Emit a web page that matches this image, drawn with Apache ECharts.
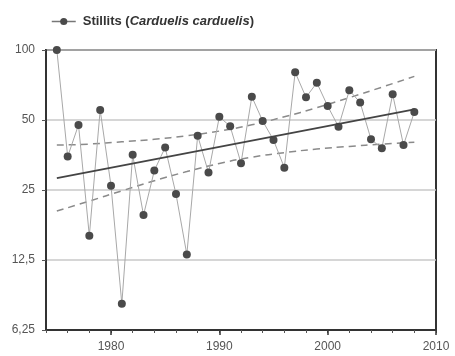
<!DOCTYPE html>
<html>
<head>
<meta charset="utf-8">
<script src="https://cdn.jsdelivr.net/npm/echarts@6/dist/echarts.min.js"></script>
<style>html,body{margin:0;padding:0;background:#fff}#c{width:455px;height:356px}</style>
</head>
<body>
<div id="c"></div>
<script>
const years = [1975,1976,1977,1978,1979,1980,1981,1982,1983,1984,1985,1986,1987,1988,1989,1990,1991,1992,1993,1994,1995,1996,1997,1998,1999,2000,2001,2002,2003,2004,2005,2006,2007,2008];
const stillits = [100,34.8,47.6,15.9,55.2,26.1,8.1,35.4,19.5,30.3,38.1,24.0,13.2,42.8,29.7,51.6,47.0,32.6,63.0,49.5,41.0,31.2,80.2,62.6,72.3,57.4,46.8,67.1,59.4,41.3,37.8,64.5,39.0,54.1];
const trendYears = [1975, 2008];
const trendValues = [28.1, 55.6];
const bandYears = [1975,1978,1981,1984,1987,1990,1993,1996,1999,2002,2005,2008];
const upperBand = [39.0,39.4,40.3,41.3,42.8,44.8,47.7,51.6,56.5,62.4,69.2,77.0];
const lowerBand = [20.3,22.4,24.8,27.4,30.0,32.5,34.6,36.2,37.5,38.5,39.4,40.1];
const yTickValues = [6.25,12.5,25,50,100];
const yTickLabels = ['6,25','12,5','25','50','100'];
const xMajorTicks = [1980,1990,2000,2010];

const base = yTickValues[0];
const toY = v => Math.log2(v / base);
const pairs = (xs, vs) => xs.map((x, i) => [x, toY(vs[i])]);

const chart = echarts.init(document.getElementById('c'), null, {renderer: 'canvas'});
const fontFamily = 'Liberation Sans, Arial, sans-serif';
chart.setOption({
  animation: false,
  backgroundColor: '#fff',
  textStyle: {fontFamily},
  grid: {left: 46, right: 19, top: 50, bottom: 26, show: true, borderColor: '#333', borderWidth: 2, backgroundColor: 'transparent'},
  legend: {
    data: ['Stillits'],
    left: 46, top: 10,
    itemWidth: 24, itemHeight: 9,
    lineStyle: {color: '#777', width: 1.5},
    formatter: () => '{s|}{b|Stillits (}{i|Carduelis carduelis}{b|)}',
    textStyle: {
      rich: {
        s: {width: 2},
        b: {fontWeight: 'bold', fontSize: 13, color: '#333', fontFamily},
        i: {fontWeight: 'bold', fontStyle: 'italic', fontSize: 13, color: '#333', fontFamily}
      }
    }
  },
  xAxis: [{
    type: 'value', min: 1974, max: 2010, interval: 2,
    axisLine: {show: true, lineStyle: {color: '#333', width: 2}},
    axisTick: {show: true, length: 3, lineStyle: {color: '#555', width: 1}},
    axisLabel: {margin: 11, fontSize: 12, color: '#555', formatter: v => (v % 10 === 0 ? String(v) : '')},
    splitLine: {show: false}
  }, {
    type: 'value', min: 1974, max: 2010, position: 'bottom',
    axisLine: {show: false},
    axisTick: {show: true, length: 5, customValues: xMajorTicks, lineStyle: {color: '#333', width: 1.5}},
    axisLabel: {show: false},
    splitLine: {show: false}
  }],
  yAxis: {
    type: 'value', min: 0, max: 4, interval: 1,
    axisLine: {show: true, lineStyle: {color: '#333', width: 2}},
    axisTick: {show: true, length: 4, lineStyle: {color: '#555'}},
    axisLabel: {margin: 11, fontSize: 12, color: '#555', formatter: v => yTickLabels[Math.round(v)]},
    splitLine: {show: true, lineStyle: {color: '#c8c8c8', width: 1.5}}
  },
  series: [
    {
      name: 'upper', type: 'line', data: pairs(bandYears, upperBand), symbol: 'none', smooth: true,
      lineStyle: {color: '#8a8a8a', width: 1.5, type: [7, 5]}, z: 1, silent: true
    },
    {
      name: 'lower', type: 'line', data: pairs(bandYears, lowerBand), symbol: 'none', smooth: true,
      lineStyle: {color: '#8a8a8a', width: 1.5, type: [7, 5]}, z: 1, silent: true
    },
    {
      name: 'trend', type: 'line', data: pairs(trendYears, trendValues), symbol: 'none',
      lineStyle: {color: '#444', width: 1.8}, z: 3, silent: true
    },
    {
      name: 'Stillits', type: 'line', data: pairs(years, stillits),
      symbol: 'circle', symbolSize: 8,
      itemStyle: {color: '#4a4a4a'},
      lineStyle: {color: '#a8a8a8', width: 1},
      z: 2
    }
  ]
});
</script>
</body>
</html>
